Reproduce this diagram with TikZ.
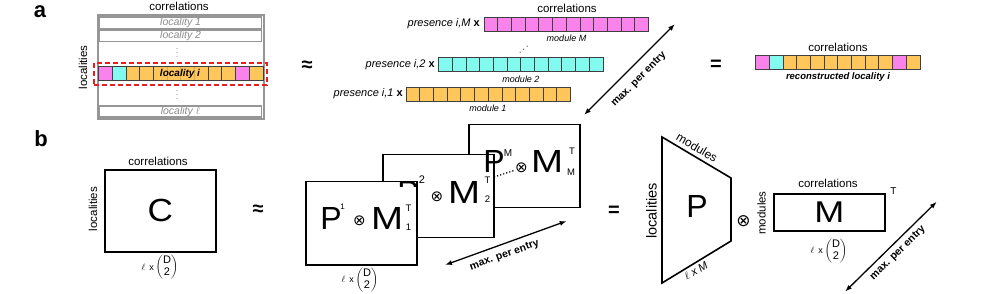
\documentclass[tikz,border=0pt]{standalone}
\usepackage{fontspec}
\setmainfont{Liberation Sans}
\newfontfamily\dejavu{DejaVu Sans}
\usetikzlibrary{arrows.meta}
\definecolor{colP}{RGB}{250,130,235}
\definecolor{colC}{RGB}{130,250,240}
\definecolor{colO}{RGB}{255,198,92}
\definecolor{rowgray}{RGB}{150,150,150}
\definecolor{txtgray}{RGB}{140,140,140}
\definecolor{dashred}{RGB}{235,30,30}
\newcommand\fs[1]{\fontsize{#1}{#1}\selectfont}
\newcommand\dchoose{{\fs{9}$\ell$\, x}\,$\left(\vcenter{\hbox{\fs{11}\begin{tabular}{@{}c@{}}D\\[1pt]2\end{tabular}}}\right)$}
\newcommand\wideM{\scalebox{1.2}[1]{M}}
\newcommand\cellrow[3]{%
  \foreach \c [count=\i from 0] in {#3} {\draw[cellline, fill=col\c] ({#1+\i*13.7},#2) rectangle ++(13.7,14);}}
\begin{document}
\begin{tikzpicture}[x=1pt,y=-1pt,
  every node/.style={inner sep=0pt},
  cellline/.style={draw=black!75, line width=0.8pt},
  lbl/.style={font=\fs{11.5}},
  modlbl/.style={font=\fs{9}\itshape},
  pres/.style={font=\fs{11}, anchor=east},
  rowbox/.style={draw=rowgray, line width=1.2pt, fill=white},
  rowtxt/.style={font=\fs{10.5}\itshape, text=txtgray},
  thickbox/.style={draw=black, line width=1.6pt, fill=white},
  framebox/.style={draw=black, line width=1.5pt, fill=white, minimum width=111pt, minimum height=83pt, anchor=north west},
  dblarrow/.style={{Latex[length=7pt,width=5pt]}-{Latex[length=7pt,width=5pt]}, line width=1.3pt},
  arrtxt/.style={font=\fs{10.5}\bfseries},
  bigl/.style={font=\fs{32}},
  supl/.style={font=\fs{9.5}},
  otim/.style={font=\fs{15}\dejavu},
  panel/.style={font=\fs{22}\bfseries},
  rel/.style={font=\fs{20}\bfseries},
  binl/.style={font=\fs{10}}]
\useasboundingbox (0,0) rectangle (997,294);

% ---------------- panel a ----------------
\node[panel] (pa) at (40,12) {a};
\node[lbl] (acorr) at (179,6.5) {correlations};
\node[lbl, rotate=90] (aloc) at (83,67.5) {localities};
\node[draw=rowgray, line width=1.6pt, minimum width=166pt, minimum height=103.5pt, anchor=north west] (amat) at (97,14.5) {};
\node[rowbox, minimum width=162pt, minimum height=12pt, anchor=north west] (r1) at (99,16.5) {};
\node[rowtxt] (r1t) at (r1.center) {locality 1};
\node[rowbox, minimum width=162pt, minimum height=11.5pt, anchor=north west] (r2) at (99,29.5) {};
\node[rowtxt] (r2t) at (r2.center) {locality 2};
\node[font=\fs{9}, text=txtgray] (d1) at (177,50) {$\vdots$};
\cellrow{98.5}{66.5}{P,C,O,O,O,O,O,O,O,O,P,O}
\node[font=\fs{10}\bfseries\itshape, fill=colO, fill opacity=0.8, text opacity=1, inner xsep=2pt, inner ysep=2pt] (rit) at (180,73.5) {locality i};
\node[draw=dashred, line width=2pt, dash pattern=on 5pt off 3pt, minimum width=172.7pt, minimum height=22.3pt, anchor=north west] (redbox) at (93.3,61.7) {};
\node[font=\fs{9}, text=txtgray] (d2) at (177,92) {$\vdots$};
\node[rowbox, minimum width=162pt, minimum height=11pt, anchor=north west] (rl) at (99,105.5) {};
\node[rowtxt] (rlt) at (rl.center) {locality $\ell$};

\node[font=\fs{20}\bfseries] (aapprox) at (307,66) {≈};

\node[lbl] (mcorr) at (567,8.5) {correlations};
\cellrow{484}{17}{P,P,P,P,P,P,P,P,P,P,P,P}
\node[pres] (presM) at (480,24) {\textit{presence i,M} \textbf{x}};
\node[modlbl] (modM) at (566.5,38.5) {module M};
\node[font=\fs{10}, rotate=40] (mdots) at (524,50) {$\cdots$};
\cellrow{438.5}{57.5}{C,C,C,C,C,C,C,C,C,C,C,C}
\node[pres] (pres2) at (435,64.5) {\textit{presence i,2} \textbf{x}};
\node[modlbl] (mod2) at (521,79.5) {module 2};
\cellrow{406}{87}{O,O,O,O,O,O,O,O,O,O,O,O}
\node[pres] (pres1) at (403,94) {\textit{presence i,1} \textbf{x}};
\node[modlbl] (mod1) at (488,108.5) {module 1};

\coordinate (aA) at (584,115);
\coordinate (aB) at (675,24);
\draw[dblarrow] (aA) -- (aB);
\node[arrtxt, rotate=45] (aat) at (639,79.5) {max. per entry};

\node[rel] (aeq) at (716,65) {=};
\node[lbl] (rcorr) at (838,47) {correlations};
\cellrow{755.5}{55}{P,C,O,O,O,O,O,O,O,O,P,O}
\node[font=\fs{9.5}\bfseries\itshape] (rtxt) at (838,77.5) {reconstructed locality i};

% ---------------- panel b ----------------
\node[panel] (pb) at (41,139) {b};
\node[lbl] (bcorr) at (158,161) {correlations};
\node[lbl, rotate=90] (bloc) at (93,209) {localities};
\node[thickbox, minimum width=111pt, minimum height=82pt, anchor=north west] (Cbox) at (104,169) {};
\node[bigl] (Ct) at (Cbox.center) {\scalebox{1.1}[1]{C}};
\node[binl] (Cdim) at (160,267.5) {\dchoose};
\node[font=\fs{20}\bfseries] (bapprox) at (258,210) {≈};

% frame 3
\node[framebox] (f3) at (468,124) {};
\begin{scope}[shift={(468,124)}]
  \node[font=\fs{10}] (f3s) at (40,29) {M};
  \node[otim] (f3o) at (53.5,44) {⊗};
  \node[bigl] (f3M) at (79,37.5) {\wideM};
  \node[supl] (f3T) at (104,27) {T};
  \node[supl] (f3b) at (103,48) {M};
\end{scope}
% frame 2
\node[framebox] (f2) at (382,154) {};
\begin{scope}[shift={(382,154)}]
  \node[font=\fs{11}] (f2s) at (40,26) {2};
  \node[otim] (f2o) at (55,42.5) {⊗};
  \node[bigl] (f2M) at (82,38.5) {\wideM};
  \node[supl] (f2T) at (105.5,26) {T};
  \node[supl] (f2b) at (105.5,45) {2};
\end{scope}
% frame 1
\node[framebox] (f1) at (305,181) {};
\begin{scope}[shift={(305,181)}]
  \node[bigl] (f1P) at (26,37.5) {P};
  \node[font=\fs{8}] (f1s) at (37.5,26) {1};
  \node[otim] (f1o) at (54.5,39.5) {⊗};
  \node[bigl] (f1M) at (82,37.5) {\wideM};
  \node[supl] (f1T) at (103.5,27) {T};
  \node[supl] (f1b) at (103.5,46.5) {1};
\end{scope}
% partially visible P of frame 2 and P of frame 3
\begin{scope}
  \clip (390,150) rectangle (425,187);
  \node[bigl] (f2P) at (408,192) {P};
\end{scope}
\node[bigl] (f3P) at (494,161.5) {P};
\coordinate (dotA) at (494,177);
\coordinate (dotB) at (514,170.5);
\draw[line width=1.2pt, dotted] (dotA) -- (dotB);
\node[binl] (f1dim) at (360,280) {\dchoose};

\coordinate (bA) at (445,265);
\coordinate (bB) at (566.7,221);
\draw[dblarrow] (bA) -- (bB);
\node[arrtxt, rotate=19.9] (bat) at (504.5,255.5) {max. per entry};

\node[rel] (beq) at (614,211) {=};

% trapezoid P
\coordinate (T1) at (662,137);
\coordinate (T2) at (731,178);
\coordinate (T3) at (731,241);
\coordinate (T4) at (662,283);
\draw[line width=1.6pt, line join=miter] (T1) -- (T2) -- (T3) -- (T4) -- cycle;
\node[bigl] (Pt) at (697,206) {P};
\node[font=\fs{14.5}, rotate=90] (tloc) at (651.5,211) {localities};
\node[font=\fs{12}, rotate=-30.7] (tmod) at (697,147.5) {modules};
\node[font=\fs{11}\itshape, rotate=31.3] (tdim) at (696,271) {$\ell$ x M};
\node[font=\fs{17}\dejavu] (totimes) at (743.5,221) {⊗};

\node[lbl, rotate=90] (mmod) at (761.5,213) {modules};
\node[lbl] (mcorr2) at (828,183.5) {correlations};
\node[thickbox, minimum width=111pt, minimum height=37pt, anchor=north west] (Mbox) at (773,193) {};
\node[font=\fs{30}] (Mt) at (Mbox.center) {\wideM};
\node[font=\fs{10}] (MT) at (893.5,191.5) {T};
\node[binl] (Mdim) at (829,251) {\dchoose};

\coordinate (cA) at (845,291.7);
\coordinate (cB) at (936.7,201.7);
\draw[dblarrow] (cA) -- (cB);
\node[arrtxt, rotate=44.5] (cat) at (898,253) {max. per entry};
\end{tikzpicture}
\end{document}
